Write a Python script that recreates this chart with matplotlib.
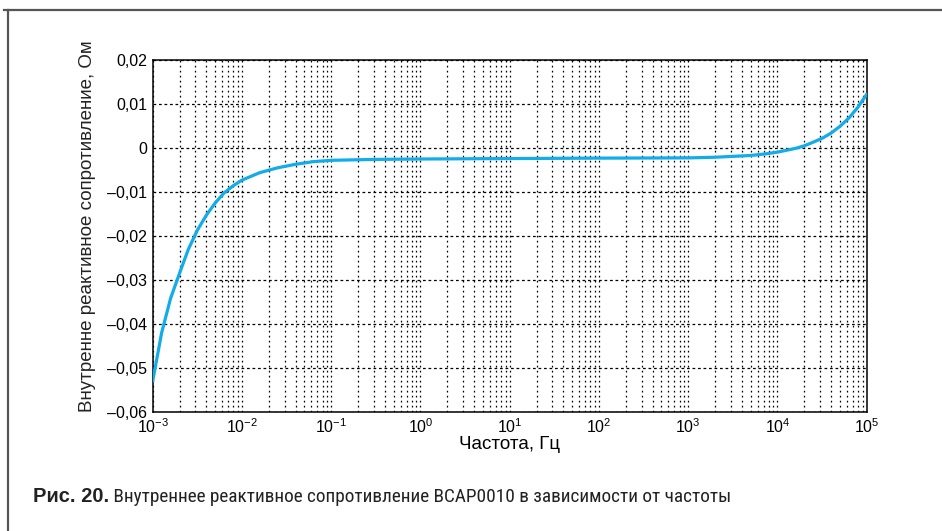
import matplotlib
matplotlib.use("Agg")
import matplotlib.pyplot as plt
from matplotlib.lines import Line2D
from matplotlib.ticker import FixedLocator, LogLocator, NullFormatter

plt.rcParams['font.family'] = ['Liberation Sans', 'DejaVu Sans']

# Data
freq_hz = [1.000e-3, 1.259e-3, 1.585e-3, 1.995e-3, 2.512e-3, 3.162e-3, 3.981e-3, 5.012e-3,
           6.310e-3, 7.943e-3, 1.0e-2, 1.585e-2, 2.512e-2, 3.981e-2, 6.310e-2, 0.1, 0.3,
           1.0, 10.0, 100.0, 1000.0, 2000.0, 3162.0, 5000.0, 7600.0, 1.0e4, 1.585e4,
           2.0e4, 2.5e4, 3.162e4, 4.0e4, 5.0e4, 6.31e4, 8.0e4, 1.0e5]
reactance_ohm = [-0.0530, -0.0420, -0.0342, -0.0285, -0.0230, -0.0187, -0.0153, -0.0125,
                 -0.0102, -0.0086, -0.0073, -0.0056, -0.0045, -0.0037, -0.0031, -0.0028,
                 -0.0026, -0.0025, -0.0024, -0.0023, -0.00225, -0.0021, -0.0019, -0.0017,
                 -0.0013, -0.00094, -0.0001, 0.0005, 0.0013, 0.0022, 0.0034, 0.0049,
                 0.0068, 0.0093, 0.0122]
y_ticks = [-0.06, -0.05, -0.04, -0.03, -0.02, -0.01, 0.0, 0.01, 0.02]
y_tick_labels = ['\u20130,06', '\u20130,05', '\u20130,04', '\u20130,03', '\u20130,02',
                 '\u20130,01', '0', '0,01', '0,02']
x_label = 'Частота, Гц'
y_label = 'Внутренне реактивное сопротивление, Ом'
caption_bold = 'Рис. 20.'
caption_text = ' Внутреннее реактивное сопротивление BCAP0010 в зависимости от частоты'

fig = plt.figure(figsize=(9.42, 5.31), dpi=100)
ax = fig.add_axes([152.7 / 942, 1 - 412 / 531, (866.7 - 152.7) / 942, (412 - 60) / 531])

ax.set_xscale('log')
ax.set_xlim(1e-3, 1e5)
ax.set_ylim(-0.06, 0.02)

ax.xaxis.set_major_locator(LogLocator(base=10, numticks=20))
ax.xaxis.set_minor_locator(LogLocator(base=10, subs=range(2, 10), numticks=100))
ax.xaxis.set_minor_formatter(NullFormatter())
ax.yaxis.set_major_locator(FixedLocator(y_ticks))
ax.set_yticklabels(y_tick_labels)

ax.grid(True, which='major', axis='y', color='black', linestyle=(0, (2.2, 2.2)), linewidth=0.9)
ax.grid(True, which='both', axis='x', color='black', linestyle=(0, (1.4, 2.6)), linewidth=0.9)
ax.set_axisbelow(True)

ax.plot(freq_hz, reactance_ohm, color='#12ace8', linewidth=2.3, solid_capstyle='round',
        solid_joinstyle='round', zorder=3)

ax.tick_params(axis='both', which='both', length=0, labelsize=11.5, pad=4)
for s in ax.spines.values():
    s.set_linewidth(1.1)
    s.set_color('black')

ax.set_xlabel(x_label, fontsize=13.5, labelpad=0)
ax.set_ylabel(y_label, fontsize=13.5, color='#222222')
ax.yaxis.set_label_coords((96 - 152.7) / 714, 0.528)

# frame lines of the figure panel
fig.add_artist(Line2D([4 / 942, 1.0], [1 - 9.7 / 531, 1 - 9.7 / 531], color='#555555', linewidth=1.6))
fig.add_artist(Line2D([7.7 / 942, 7.7 / 942], [0.0, 1 - 9.7 / 531], color='#555555', linewidth=1.6))

t1 = fig.text(33 / 942, 1 - 497 / 531, caption_bold, fontsize=14.5, fontweight='bold',
              va='center', ha='left', color='#222222')
fig.canvas.draw()
bb = t1.get_window_extent()
fig.text(bb.x1 / fig.bbox.width, 1 - 497 / 531, caption_text, fontsize=13.9,
         va='center', ha='left', color='#222222',
         family=['Liberation Sans Narrow', 'Roboto Condensed', 'Liberation Sans'])

fig.savefig('out.png', dpi=100)
